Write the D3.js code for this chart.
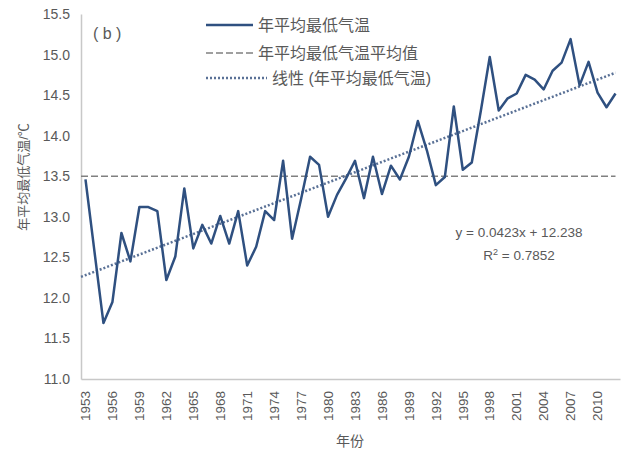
<!DOCTYPE html>
<html>
<head>
<meta charset="utf-8">
<script src="https://cdn.jsdelivr.net/npm/d3@7"></script>
<style>
  body { margin: 0; background: #fff; }
  svg { display: block; font-family: "Liberation Sans", "Noto Sans CJK SC", sans-serif; }
</style>
</head>
<body>
<div id="chart"></div>
<script>
// data
const years = d3.range(1953, 2013);
const tmin = [
  13.46, 12.57, 11.69, 11.95, 12.80, 12.45, 13.12, 13.12, 13.07, 12.22,
  12.51, 13.35, 12.61, 12.90, 12.67, 13.01, 12.67, 13.07, 12.40, 12.63,
  13.07, 12.96, 13.69, 12.73, 13.22, 13.74, 13.64, 13.00, 13.27, 13.47,
  13.69, 13.23, 13.74, 13.28, 13.63, 13.46, 13.74, 14.18, 13.82, 13.39,
  13.49, 14.36, 13.58, 13.67, 14.30, 14.97, 14.31, 14.46, 14.52, 14.75,
  14.69, 14.57, 14.80, 14.90, 15.19, 14.62, 14.91, 14.53, 14.35, 14.52
];
const meanValue = 13.5;
const slope = 0.0423, intercept = 12.238;
const yTicks = [11.0, 11.5, 12.0, 12.5, 13.0, 13.5, 14.0, 14.5, 15.0, 15.5];
const xTickYears = years.filter((y, i) => i % 3 === 0);
const legendLabels = ["年平均最低气温", "年平均最低气温平均值", "线性 (年平均最低气温)"];

const width = 627, height = 452;
const margin = { top: 14, right: 7, bottom: 73, left: 81 };
const lineColor = "#2f5080";
const textColor = "#595959";

const svg = d3.select("#chart")
  .append("svg")
  .attr("width", width)
  .attr("height", height);

const x = d3.scaleBand()
  .domain(years)
  .range([margin.left, width - margin.right]);
const cx = d => x(d) + x.bandwidth() / 2;

const y = d3.scaleLinear()
  .domain([11, 15.5])
  .range([height - margin.bottom, margin.top]);

// axes
const yAxis = svg.append("g")
  .attr("transform", `translate(${margin.left},0)`)
  .call(d3.axisLeft(y).tickValues(yTicks).tickFormat(d3.format(".1f")).tickSize(0).tickPadding(11));
yAxis.select(".domain").attr("stroke", "#c8c8c8").attr("stroke-width", 1.5);
yAxis.selectAll("text").attr("fill", textColor).style("font-size", "14px");

const xAxis = svg.append("g")
  .attr("transform", `translate(0,${height - margin.bottom})`)
  .call(d3.axisBottom(x).tickValues(xTickYears).tickSize(0));
xAxis.select(".domain").attr("stroke", "#c8c8c8").attr("stroke-width", 1.5);
xAxis.selectAll("text")
  .attr("fill", textColor)
  .style("font-size", "13.5px")
  .attr("transform", "rotate(-90)")
  .attr("text-anchor", "end")
  .attr("dy", "0.35em")
  .attr("dx", "-12")
  .attr("y", 0);

// axis titles
svg.append("text")
  .attr("transform", "translate(23,177) rotate(-90)")
  .attr("text-anchor", "middle")
  .attr("dy", "0.35em")
  .attr("fill", textColor)
  .style("font-size", "13px")
  .text("年平均最低气温/℃");

svg.append("text")
  .attr("x", 350)
  .attr("y", 446)
  .attr("text-anchor", "middle")
  .attr("fill", textColor)
  .style("font-size", "14px")
  .text("年份");

// mean line
svg.append("line")
  .attr("x1", x.range()[0])
  .attr("x2", cx(years[years.length - 1]))
  .attr("y1", y(meanValue))
  .attr("y2", y(meanValue))
  .attr("stroke", "#808080")
  .attr("stroke-width", 1.5)
  .attr("stroke-dasharray", "7,3");

// linear trend
svg.append("line")
  .attr("x1", x.range()[0])
  .attr("x2", cx(years[years.length - 1]))
  .attr("y1", y(intercept + slope * 0.5))
  .attr("y2", y(intercept + slope * years.length))
  .attr("stroke", "#5a7196")
  .attr("stroke-width", 2.5)
  .attr("stroke-dasharray", "2,2");

// data line
svg.append("path")
  .datum(tmin)
  .attr("fill", "none")
  .attr("stroke", lineColor)
  .attr("stroke-width", 2.5)
  .attr("stroke-linejoin", "round")
  .attr("d", d3.line().x((d, i) => cx(years[i])).y(d => y(d)));

// panel label
svg.append("text")
  .attr("x", 93)
  .attr("y", 39)
  .attr("fill", textColor)
  .style("font-size", "16px")
  .text("( b )");

// legend
const legend = svg.append("g");
const legendRows = [
  { y: 25, dash: null, color: lineColor, w: 2.5, x1: 206, x2: 253, tx: 258 },
  { y: 53, dash: "7,3", color: "#808080", w: 1.5, x1: 206, x2: 253, tx: 258 },
  { y: 78, dash: "2,2", color: "#5a7196", w: 2.5, x1: 206, x2: 267, tx: 272 }
];
legendRows.forEach((r, i) => {
  legend.append("line")
    .attr("x1", r.x1).attr("x2", r.x2)
    .attr("y1", r.y).attr("y2", r.y)
    .attr("stroke", r.color)
    .attr("stroke-width", r.w)
    .attr("stroke-dasharray", r.dash);
  legend.append("text")
    .attr("x", r.tx)
    .attr("y", r.y)
    .attr("dy", "0.35em")
    .attr("fill", textColor)
    .style("font-size", "16px")
    .text(legendLabels[i]);
});

// regression equation
svg.append("text")
  .attr("x", 519)
  .attr("y", 237)
  .attr("text-anchor", "middle")
  .attr("fill", textColor)
  .style("font-size", "13.5px")
  .text(`y = ${slope}x + ${intercept}`);

const r2 = svg.append("text")
  .attr("x", 519)
  .attr("y", 260)
  .attr("text-anchor", "middle")
  .attr("fill", textColor)
  .style("font-size", "13.5px");
r2.append("tspan").text("R");
r2.append("tspan").attr("dy", -5).style("font-size", "9px").text("2");
r2.append("tspan").attr("dy", 5).text(" = 0.7852");
</script>
</body>
</html>
